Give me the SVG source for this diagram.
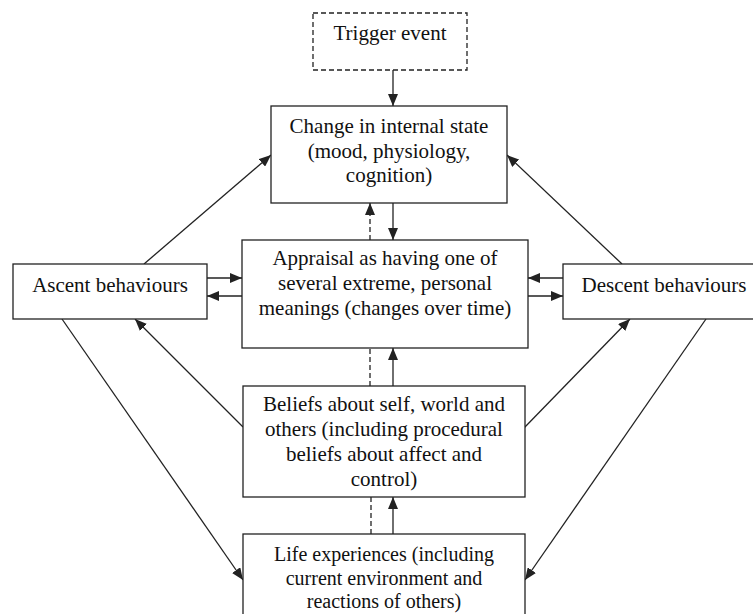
<svg xmlns="http://www.w3.org/2000/svg" width="753" height="614" viewBox="0 0 753 614">
<style>
.box{fill:#fff;stroke:#222;stroke-width:1.3}
.dbox{fill:#fff;stroke:#222;stroke-width:1.3;stroke-dasharray:5,3}
text{font-family:"Liberation Serif","Times New Roman",serif;font-size:21px;fill:#111;text-anchor:middle}
.sm{font-size:20px}
.c{stroke:#222;stroke-width:1.3;fill:none}
.a{marker-end:url(#ah)}
.d{stroke-dasharray:5,3}
</style>
<defs>
<marker id="ah" markerUnits="userSpaceOnUse" markerWidth="13" markerHeight="10" refX="12" refY="5" orient="auto">
<path d="M0,0 L12,5 L0,10 Z" fill="#222"/>
</marker>
</defs>
<g id="connectors">
<line class="c a" x1="393" y1="70" x2="393" y2="106"/>
<line class="c a" x1="393" y1="203" x2="393" y2="240"/>
<line class="c a d" x1="370" y1="240" x2="370" y2="203"/>
<line class="c a" x1="393" y1="386" x2="393" y2="348"/>
<line class="c d" x1="370" y1="386" x2="370" y2="348"/>
<line class="c a" x1="393" y1="534" x2="393" y2="497"/>
<line class="c d" x1="371" y1="534" x2="371" y2="497"/>
<line class="c a" x1="207" y1="278" x2="242" y2="278"/>
<line class="c a" x1="242" y1="296" x2="207" y2="296"/>
<line class="c a" x1="563" y1="278" x2="528" y2="278"/>
<line class="c a" x1="528" y1="296" x2="563" y2="296"/>
<line class="c a" x1="144" y1="264" x2="271" y2="155"/>
<line class="c a" x1="622" y1="264" x2="507" y2="155"/>
<line class="c a" x1="62" y1="319" x2="243" y2="580"/>
<line class="c a" x1="243" y1="427" x2="135" y2="319"/>
<line class="c a" x1="524" y1="428" x2="630" y2="319"/>
<line class="c a" x1="706" y1="319" x2="525" y2="580"/>
</g>
<g id="trigger">
<rect class="dbox" x="313" y="13" width="154" height="57"/>
<text x="390" y="40">Trigger event</text>
</g>
<g id="change">
<rect class="box" x="271" y="106" width="236" height="97"/>
<text x="389" y="133">Change in internal state</text>
<text x="389" y="158">(mood, physiology,</text>
<text x="389" y="182">cognition)</text>
</g>
<g id="appraisal">
<rect class="box" x="242" y="240" width="286" height="108"/>
<text x="385" y="265">Appraisal as having one of</text>
<text x="385" y="290">several extreme, personal</text>
<text x="385" y="315">meanings (changes over time)</text>
</g>
<g id="ascent">
<rect class="box" x="13" y="264" width="194" height="55"/>
<text x="110" y="292">Ascent behaviours</text>
</g>
<g id="descent">
<rect class="box" x="563" y="264" width="200" height="55"/>
<text x="664" y="292">Descent behaviours</text>
</g>
<g id="beliefs">
<rect class="box" x="243" y="386" width="282" height="111"/>
<text x="384" y="411">Beliefs about self, world and</text>
<text x="384" y="436">others (including procedural</text>
<text x="384" y="461">beliefs about affect and</text>
<text x="384" y="486">control)</text>
</g>
<g id="life">
<rect class="box" x="243" y="534" width="282" height="90"/>
<text class="sm" x="384" y="561">Life experiences (including</text>
<text class="sm" x="384" y="585">current environment and</text>
<text class="sm" x="384" y="608">reactions of others)</text>
</g>
</svg>
